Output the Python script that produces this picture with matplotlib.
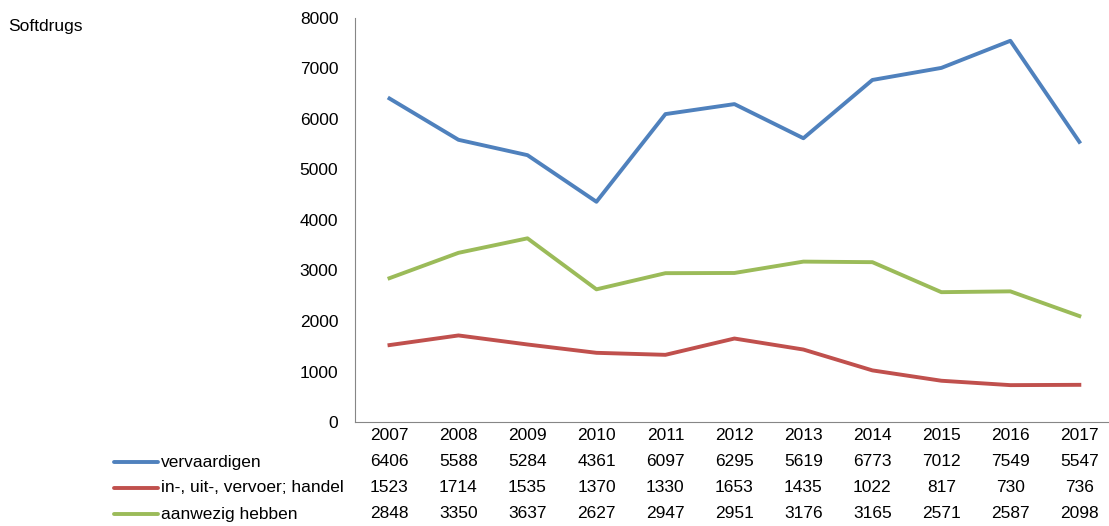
import matplotlib
matplotlib.use("Agg")
import matplotlib.pyplot as plt
from matplotlib.lines import Line2D
import matplotlib.transforms as mtransforms

plt.rcParams["font.family"] = ["Liberation Sans", "DejaVu Sans"]

years = ["2007", "2008", "2009", "2010", "2011", "2012", "2013", "2014", "2015", "2016", "2017"]
vervaardigen = [6406, 5588, 5284, 4361, 6097, 6295, 5619, 6773, 7012, 7549, 5547]
handel = [1523, 1714, 1535, 1370, 1330, 1653, 1435, 1022, 817, 730, 736]
aanwezig = [2848, 3350, 3637, 2627, 2947, 2951, 3176, 3165, 2571, 2587, 2098]

series = [
    ("vervaardigen", vervaardigen, "#4F81BD"),
    ("in-, uit-, vervoer; handel", handel, "#C0504D"),
    ("aanwezig hebben", aanwezig, "#9BBB59"),
]

W, H = 1109, 526
fig = plt.figure(figsize=(W / 100, H / 100), dpi=100)
ax = fig.add_axes([355 / W, 1 - 422 / H, (W - 355) / W, (422 - 18) / H])

x = list(range(len(years)))
for name, vals, col in series:
    ax.plot(x, vals, color=col, lw=2.8, solid_joinstyle="round")

fs = 12.5
ax.set_xlim(-0.5, 10.43)
ax.set_ylim(0, 8000)
ax.set_yticks(range(0, 8001, 1000))
ax.tick_params(axis="y", length=0, pad=12, labelsize=fs)
ax.set_xticks([])
for s in ["top", "right"]:
    ax.spines[s].set_visible(False)
ax.spines["left"].set_color("#868686")
ax.spines["bottom"].set_color("#868686")

# data table under the chart
trans = mtransforms.blended_transform_factory(ax.transData, fig.transFigure)
for i, yr in enumerate(years):
    fig.text(i, 1 - 436 / H, yr, transform=trans, ha="center", va="center", fontsize=fs)
row_y = [462, 488, 514]
for (name, vals, col), ry in zip(series, row_y):
    yy = 1 - ry / H
    for i, v in enumerate(vals):
        fig.text(i, yy, str(v), transform=trans, ha="center", va="center", fontsize=fs)
    fig.add_artist(Line2D([114 / W, 158 / W], [yy, yy], color=col, lw=2.8,
                          solid_capstyle="round", transform=fig.transFigure))
    fig.text(161 / W, yy, name, ha="left", va="center", fontsize=fs)

fig.text(8 / W, 1 - 27 / H, "Softdrugs", ha="left", va="center", fontsize=fs)

fig.savefig("out.png", dpi=100)
